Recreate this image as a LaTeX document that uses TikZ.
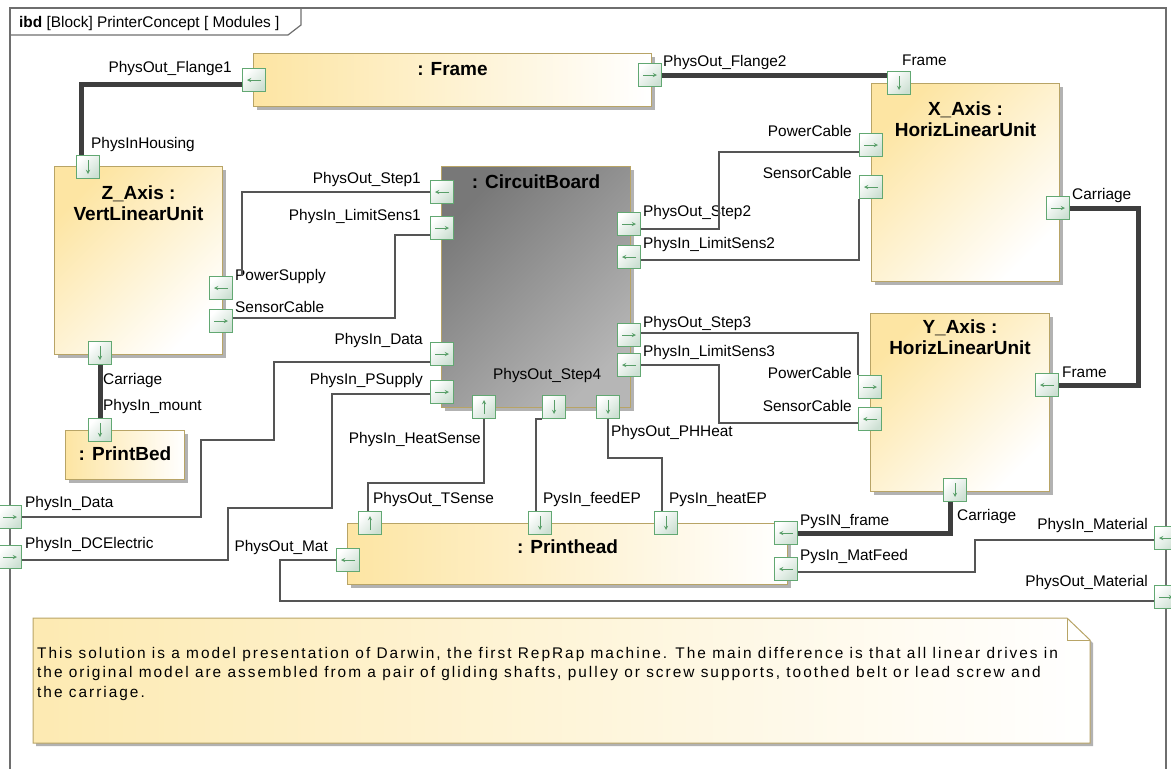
\documentclass[tikz,border=0pt]{standalone}
\usepackage{fontspec}
\setmainfont{Liberation Sans}
\newfontfamily\notefamily{Liberation Sans}[LetterSpace=13]
\usepackage{xcolor}
\usepackage{tikz}
\usetikzlibrary{arrows, positioning, shadows}

\definecolor{blkyellow}{RGB}{253,229,163}
\definecolor{noteyellow}{RGB}{253,234,178}
\definecolor{blkborder}{RGB}{184,164,102}
\definecolor{cbdark}{RGB}{120,120,120}
\definecolor{cblight}{RGB}{182,182,182}
\definecolor{portborder}{RGB}{98,168,114}
\definecolor{portfill}{RGB}{205,224,211}
\definecolor{portarrow}{RGB}{88,158,104}
\definecolor{wiregrey}{RGB}{85,85,85}
\definecolor{busgrey}{RGB}{62,62,62}
\definecolor{framegrey}{RGB}{110,110,110}

\begin{document}
\begin{tikzpicture}[
    x=1pt, y=-1pt,
    blk/.style = {draw=blkborder, line width=1pt, top color=blkyellow, bottom color=white, shading angle=45, anchor=north west, inner sep=0pt,
        drop shadow={shadow xshift=3pt, shadow yshift=-3pt, fill=black, opacity=0.3}},
    blkh/.style = {blk, left color=blkyellow, right color=white},
    board/.style = {blk, top color=cbdark, bottom color=cblight, shading angle=45},
    title/.style = {inner sep=0pt, align=center, font=\fontsize{19}{20.5}\selectfont\bfseries},
    lbl/.style = {inner sep=0pt, font=\fontsize{15.4}{18}\selectfont},
    port/.style = {draw=portborder, line width=0.9pt, top color=white, bottom color=portfill, shading angle=45, minimum size=23pt, inner sep=0pt},
    parrow/.style = {->, >=stealth, draw=portarrow, line width=0.9pt},
    pR/.style = {port, path picture={\draw[parrow] ([xshift=-7pt]path picture bounding box.center) -- ([xshift=7pt]path picture bounding box.center);}},
    pL/.style = {port, path picture={\draw[parrow] ([xshift=7pt]path picture bounding box.center) -- ([xshift=-7pt]path picture bounding box.center);}},
    pU/.style = {port, path picture={\draw[parrow] ([yshift=-7pt]path picture bounding box.center) -- ([yshift=7pt]path picture bounding box.center);}},
    pD/.style = {port, path picture={\draw[parrow] ([yshift=7pt]path picture bounding box.center) -- ([yshift=-7pt]path picture bounding box.center);}},
    wire/.style = {draw=wiregrey, line width=1.3pt},
    bus/.style = {draw=busgrey, line width=5pt}
]
\useasboundingbox (0,0) rectangle (1171,769);

% Diagram frame
\draw[framegrey, line width=1.5pt] (10,775) -- (10,8) -- (1166,8) -- (1166,775);
\draw[framegrey, line width=1.2pt] (10,35) -- (288,35) -- (301,25) -- (301,8);
\node (tab) [lbl, anchor=base west] at (19,27) {\textbf{ibd} [Block] PrinterConcept [ Modules ]};

% Parts
\node (fr) [blkh, minimum width=398pt, minimum height=53pt] at (253,53) {};
\node (z) [blk, minimum width=168pt, minimum height=188pt] at (54,166) {};
\node (pb) [blkh, minimum width=119pt, minimum height=49pt] at (65,430) {};
\node (cb) [board, minimum width=189pt, minimum height=241pt] at (441,166) {};
\node (x) [blk, minimum width=188pt, minimum height=198pt] at (871,83) {};
\node (y) [blk, minimum width=179pt, minimum height=178pt] at (870,313) {};
\node (ph) [blkh, minimum width=440pt, minimum height=61pt] at (347,523) {};

% Note
\path[draw=blkborder, line width=1pt, left color=noteyellow, right color=white,
    drop shadow={shadow xshift=3pt, shadow yshift=-3pt, fill=black, opacity=0.3}]
    (33,618) -- (1067,618) -- (1090,640) -- (1090,743) -- (33,743) -- cycle;
\draw[blkborder, line width=1pt] (1067,618) -- (1067,640) -- (1090,640);
\node (note) [inner sep=0pt, anchor=north west, align=left, font=\notefamily\fontsize{15.4}{19.5}\selectfont] at (37,647) {This solution is a model presentation of Darwin, the first RepRap machine. The main difference is that all linear drives in\\the original model are assembled from a pair of gliding shafts, pulley or screw supports, toothed belt or lead screw and\\the carriage.};

% Titles
\node (frT) [title, below=9pt of fr.north] {: Frame};
\node (zT) [title, below=20pt of z.north] {Z\_Axis :\\VertLinearUnit};
\node (pbT) [title, below=17pt of pb.north] {: PrintBed};
\node (cbT) [title, below=9pt of cb.north] {: CircuitBoard};
\node (xT) [title, below=19pt of x.north] {X\_Axis :\\HorizLinearUnit};
\node (yT) [title, below=7pt of y.north] {Y\_Axis :\\HorizLinearUnit};
\node (phT) [title, below=17pt of ph.north] {: Printhead};

% Ports
\node (frL) [pL] at (254,80) {};
\node (frR) [pR] at (650,75) {};
\node (zH) [pD] at (88,167) {};
\node (zP) [pL] at (221,288) {};
\node (zS) [pR] at (221,321) {};
\node (zC) [pD] at (100,353) {};
\node (pbM) [pD] at (100,430) {};
\node (cbS1) [pL] at (442,192) {};
\node (cbL1) [pR] at (442,228) {};
\node (cbD) [pR] at (442,354) {};
\node (cbP) [pR] at (442,392) {};
\node (cbS2) [pR] at (629,224) {};
\node (cbL2) [pL] at (629,257) {};
\node (cbS3) [pR] at (629,335) {};
\node (cbL3) [pL] at (629,365) {};
\node (cbH) [pU] at (484,407) {};
\node (cbS4) [pD] at (554,407) {};
\node (cbPH) [pD] at (608,407) {};
\node (xF) [pD] at (899,83) {};
\node (xP) [pR] at (871,145) {};
\node (xS) [pL] at (871,187) {};
\node (xC) [pR] at (1058,208) {};
\node (yP) [pR] at (870,387) {};
\node (yS) [pL] at (870,419) {};
\node (yF) [pL] at (1047,385) {};
\node (yC) [pD] at (955,490) {};
\node (phTS) [pU] at (370,523) {};
\node (phFe) [pD] at (540,523) {};
\node (phHe) [pD] at (666,523) {};
\node (phM) [pL] at (348,560) {};
\node (phF) [pL] at (786,533) {};
\node (phMF) [pL] at (786,569) {};
\node (inD) [pR] at (10,517) {};
\node (inDC) [pR] at (10,557) {};
\node (inMat) [pL] at (1166,538) {};
\node (outMat) [pR] at (1166,597) {};

% Port labels
\node (lFl1) [lbl, anchor=base east] at (232,72) {PhysOut\_Flange1};
\node (lFl2) [lbl, anchor=base west] at (663,66) {PhysOut\_Flange2};
\node (lXF) [lbl, anchor=base west] at (902,65) {Frame};
\node (lHous) [lbl, anchor=base west] at (91,148) {PhysInHousing};
\node (lS1) [lbl, anchor=base east] at (421,183) {PhysOut\_Step1};
\node (lL1) [lbl, anchor=base east] at (421,220) {PhysIn\_LimitSens1};
\node (lPS) [lbl, anchor=base west] at (235,280) {PowerSupply};
\node (lSC) [lbl, anchor=base west] at (235,312) {SensorCable};
\node (lDat) [lbl, anchor=base east] at (423,344) {PhysIn\_Data};
\node (lPSup) [lbl, anchor=base east] at (423,384) {PhysIn\_PSupply};
\node (lZC) [lbl, anchor=base west] at (103,384) {Carriage};
\node (lMnt) [lbl, anchor=base west] at (103,410) {PhysIn\_mount};
\node (lInD) [lbl, anchor=base west] at (25,507) {PhysIn\_Data};
\node (lDCE) [lbl, anchor=base west] at (25,548) {PhysIn\_DCElectric};
\node (lMat) [lbl, anchor=base east] at (328,551) {PhysOut\_Mat};
\node (lHS) [lbl, anchor=base east] at (481,443) {PhysIn\_HeatSense};
\node (lTS) [lbl, anchor=base west] at (373,503) {PhysOut\_TSense};
\node (lFe) [lbl, anchor=base west] at (543,503) {PysIn\_feedEP};
\node (lHe) [lbl, anchor=base west] at (669,503) {PysIn\_heatEP};
\node (lPH) [lbl, anchor=base west] at (611,436) {PhysOut\_PHHeat};
\node (lS4) [lbl, anchor=base west] at (493,379) {PhysOut\_Step4};
\node (lS2) [lbl, anchor=base west] at (643,216) {PhysOut\_Step2};
\node (lL2) [lbl, anchor=base west] at (643,248) {PhysIn\_LimitSens2};
\node (lS3) [lbl, anchor=base west] at (643,327) {PhysOut\_Step3};
\node (lL3) [lbl, anchor=base west] at (643,356) {PhysIn\_LimitSens3};
\node (lXP) [lbl, anchor=base east] at (852,136) {PowerCable};
\node (lXS) [lbl, anchor=base east] at (852,178) {SensorCable};
\node (lXC) [lbl, anchor=base west] at (1072,199) {Carriage};
\node (lYP) [lbl, anchor=base east] at (852,378) {PowerCable};
\node (lYS) [lbl, anchor=base east] at (852,411) {SensorCable};
\node (lYF) [lbl, anchor=base west] at (1062,377) {Frame};
\node (lYC) [lbl, anchor=base west] at (957,520) {Carriage};
\node (lPF) [lbl, anchor=base west] at (800,525) {PysIN\_frame};
\node (lPMF) [lbl, anchor=base west] at (800,560) {PysIn\_MatFeed};
\node (lIM) [lbl, anchor=base east] at (1148,529) {PhysIn\_Material};
\node (lOM) [lbl, anchor=base east] at (1148,586) {PhysOut\_Material};

% Mechanical links
\draw [bus] ([yshift=-4pt]frL.west) -| ([xshift=-7pt]zH.north);
\draw [bus] (frR.east) -- (frR.east -| xF.west);
\draw [bus] (zC.south) -- (pbM.north);
\draw [bus] (xC.east) -| ([xshift=80pt]yF.east) -- (yF.east);
\draw [bus] ([xshift=-5pt]yC.south) |- (phF.east);

% Signal and power links
\draw [wire] (cbS1.west) -| ([xshift=9pt]zP.north east);
\draw [wire] ([yshift=3pt]zS.east) -| (395,235) -- ([yshift=-7pt]cbL1.west);
\draw [wire] (inD.east) -| (201,440) -| (274,362) -- ([yshift=-8pt]cbD.west);
\draw [wire] ([yshift=-3pt]inDC.east) -| (228,508) -| (332,394) -- ([yshift=-2pt]cbP.west);
\draw [wire] (cbH.south) |- (368,483) -- ([xshift=-2pt]phTS.north);
\draw [wire] (cbS4.south west) -| ([xshift=-4pt]phFe.north);
\draw [wire] (cbPH.south) |- (662,458) -- ([xshift=-4pt]phHe.north);
\draw [wire] (phM.west) -| (280,601) -- ([yshift=-4pt]outMat.west);
\draw [wire] ([yshift=-3pt]phMF.east) -| (975,540) -- ([yshift=-2pt]inMat.west);
\draw [wire] ([yshift=-5pt]cbS2.east) -| (719,152) -- ([yshift=-7pt]xP.west);
\draw [wire] ([yshift=-3pt]cbL2.east) -| (xS.south west);
\draw [wire] ([yshift=2pt]cbS3.east) -| (yP.north west);
\draw [wire] (cbL3.east) -| (719,423) -- ([yshift=-4pt]yS.west);

\end{tikzpicture}
\end{document}
